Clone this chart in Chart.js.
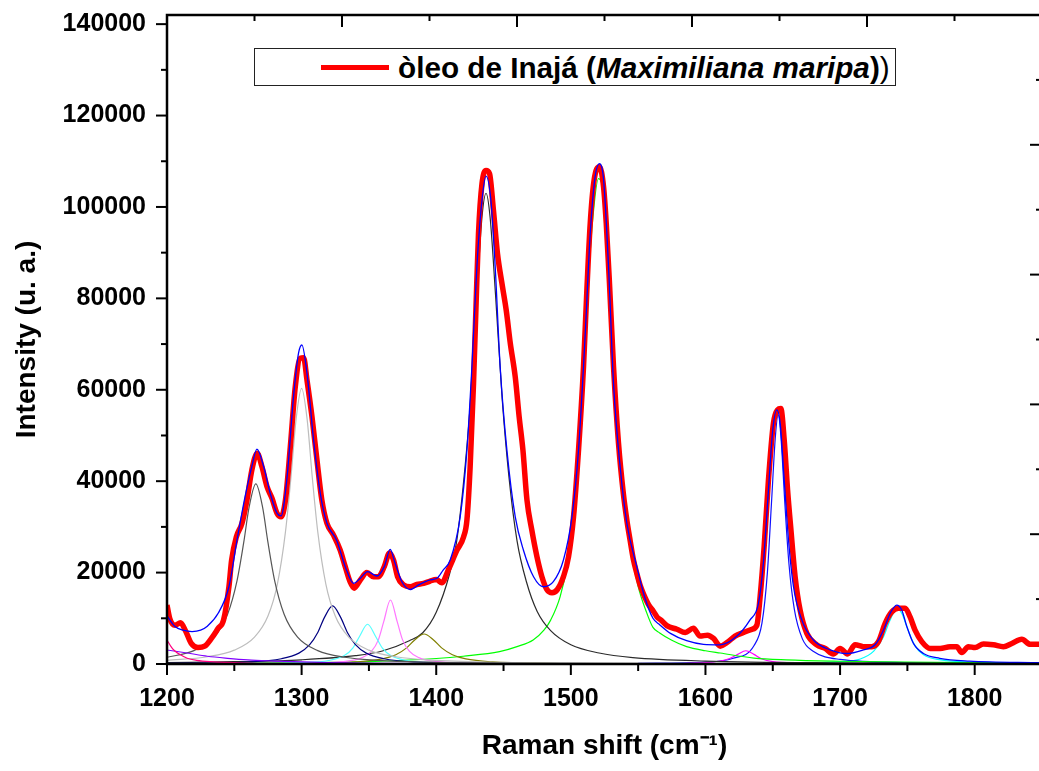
<!DOCTYPE html>
<html>
<head>
<meta charset="utf-8">
<script src="https://cdn.jsdelivr.net/npm/chart.js@4.4.1/dist/chart.umd.min.js"></script>
<style>
  html, body { margin: 0; padding: 0; background: #fff; overflow: hidden; }
  #wrap { position: relative; width: 1060px; height: 771px; }
  #legend { position: absolute; left: 254px; top: 48px; width: 642px; height: 38px; box-sizing: border-box;
            border: 1px solid #222; background: #fff; font-family: 'Liberation Sans', Arial, sans-serif; }
  #legend .swatch { position: absolute; left: 66px; top: 16px; width: 68px; height: 5px; background: #ff0000; }
  #legend .label { position: absolute; left: 143px; top: 4px; font-size: 29.7px; line-height: 30px; white-space: nowrap; color: #000; }
</style>
</head>
<body>
<div id="wrap">
  <canvas id="raman" width="1060" height="771"></canvas>
  <div id="legend"><span class="swatch"></span><span class="label"><b>òleo de Inajá (<i>Maximiliana maripa</i>)</b>)</span></div>
</div>
<script>
// axis ticks
const xTicks = [1200, 1300, 1400, 1500, 1600, 1700, 1800];
const xMinor = [1250, 1350, 1450, 1550, 1650, 1750];
const yTicks = [0, 20000, 40000, 60000, 80000, 100000, 120000, 140000];
const yMinor = [10000, 30000, 50000, 70000, 90000, 110000, 130000];
// top / right axes of the second layer (no labels), as fractions of the frame
const mirrorMajor = [0, 0.2, 0.4, 0.6, 0.8, 1];
const mirrorMinor = [0.1, 0.3, 0.5, 0.7, 0.9];

// measured spectrum [shift, intensity]
const spectrum = [[1200,12900],[1202,10000],[1206,8500],[1210,9000],[1214,7100],[1218,4500],[1223,3600],[1228,3900],
  [1233,5600],[1238,7800],[1242,9600],[1246,16900],[1248,22750],[1251.5,27800],[1255.7,30800],[1259.4,35900],[1263,42400],
  [1267,46100],[1270.5,43200],[1274.3,38800],[1278,36250],[1281.7,33000],[1284.7,32200],[1288,35900],[1291.6,47500],
  [1295.3,60700],[1299,66900],[1301.5,67000],[1304,62100],[1307.7,54100],[1311.4,44600],[1315,35900],[1318.8,30800],
  [1323.7,28200],[1328.7,24900],[1332.4,21300],[1336,18000],[1339,16600],[1343.6,18400],[1348.5,20000],[1353.4,19100],
  [1357,19100],[1361.4,21300],[1365.3,24300],[1368.3,22750],[1371.3,19100],[1375.7,17300],[1380.7,16900],[1385.6,17400],
  [1390.6,17650],[1395.5,18150],[1400,18500],[1404.2,17800],[1409,20600],[1415.4,24900],[1420.3,27800],[1422.8,31500],
  [1425.2,43200],[1427.7,61400],[1429.7,79600],[1431.4,94200],[1434,105100],[1437,108000],[1439.6,107300],[1442.5,99300],
  [1445.5,89800],[1448.8,83300],[1452,77400],[1455,70200],[1458.7,62800],[1461.6,54100],[1464.4,46800],[1467.4,35900],
  [1471,29300],[1474.8,23500],[1478.5,19100],[1482.2,16300],[1486,15600],[1490,16300],[1494.5,19100],[1498.3,23500],
  [1502,32200],[1505.7,46800],[1509.4,65000],[1511.9,81800],[1514.4,96400],[1517.3,105900],[1521.3,108800],[1524.3,104400],
  [1526.3,96400],[1528.7,83300],[1531.7,65000],[1535.4,48300],[1539,37300],[1541.6,31500],[1544,27100],[1546.5,22800],
  [1549,19800],[1551.5,17200],[1554,15300],[1557.7,13000],[1561.4,11500],[1564,10300],[1567,9600],[1571.3,8400],
  [1578.8,7600],[1585,6900],[1591,7800],[1596,6100],[1601.5,6300],[1606,5600],[1611,3900],[1616,4700],[1622,6100],
  [1628.2,6900],[1634.5,7600],[1638.2,8500],[1640.6,14700],[1643.6,25700],[1646.8,40300],[1650.5,52700],[1653.5,55600],
  [1656,55900],[1658.5,49000],[1661,38100],[1663.5,29300],[1666.6,19100],[1670.3,11800],[1675.3,6700],[1682.7,4200],
  [1688.9,3400],[1695,2200],[1700,3400],[1705.5,2200],[1711.2,4200],[1717.3,3800],[1723.6,3800],[1728.5,4900],
  [1733.5,8900],[1738.4,11400],[1743.3,12200],[1748.3,12200],[1752,10300],[1755.7,7400],[1760.7,4900],[1766.9,3400],
  [1774.3,3400],[1781.7,3800],[1786.7,3800],[1790.4,2500],[1795.3,3800],[1800.3,3600],[1806.5,4400],[1813.9,4200],
  [1821.3,3800],[1827.6,4500],[1835,5400],[1841.3,4300],[1850,4300]];

// cumulative fit
const fitSum = [[1200,10500],[1206,8200],[1212,7400],[1218.6,7100],[1225,7400],[1229.7,8200],[1238,11100],[1246,16900],
  [1252,27100],[1258,36600],[1263,43200],[1266.8,47000],[1271.8,43200],[1276.7,37300],[1281.7,33000],[1284.7,32400],
  [1289,40300],[1294,58500],[1297.7,68000],[1300.2,69800],[1304,63600],[1308.9,49000],[1313.9,37300],[1318.8,30800],
  [1326,27100],[1332.4,21300],[1338.6,17650],[1343.6,18750],[1349,20200],[1356,19250],[1361.4,21300],[1365.8,25100],
  [1369.5,22000],[1374.5,18000],[1380.7,16300],[1386.9,17300],[1395.5,18400],[1400.5,18750],[1405,20500],[1410.4,22750],
  [1417.8,32200],[1422.8,46800],[1426.5,65000],[1430.2,86900],[1434,101500],[1437,106750],[1440.6,101500],[1443.8,86900],
  [1447.5,65000],[1452.5,46800],[1458.7,32200],[1464.8,24900],[1472.3,19100],[1479.7,16900],[1487,18000],[1494.5,22750],
  [1500.8,32200],[1505.7,46800],[1510.7,72300],[1514.4,94200],[1518,106600],[1521.3,109500],[1524.3,106000],[1528,86900],
  [1531.7,61400],[1536.6,43200],[1541.6,30800],[1549,21300],[1555,14500],[1561,10000],[1566,8600],[1574,6700],
  [1586,5100],[1598.5,4300],[1611,4200],[1623,6000],[1633,9600],[1639.4,13300],[1643,22000],[1646.8,38100],
  [1650,51200],[1653,55600],[1655.5,52700],[1658.5,40300],[1661.7,27100],[1665.4,16900],[1671.6,9600],[1680.2,5250],
  [1692.6,3100],[1705,2300],[1717.3,3100],[1726,4200],[1732.2,7400],[1737.2,11100],[1742.1,12900],[1745.8,11800],
  [1749.6,8200],[1754.5,4500],[1761.9,2300],[1774,1250],[1796,650],[1850,300]];

// fitted component bands
const band1200a = [[1200,5250],[1203,3800],[1205,3060],[1210,2000],[1215,1250],[1222,800],[1232,500],[1260,200],[1300,100],[1400,40]];
const band1200b = [[1200,3060],[1215,2400],[1230,1700],[1245,1250],[1260,900],[1280,650],[1294,500],[1320,300],[1360,150],[1400,100],[1500,50]];
const band1266 = [[1200,1470],[1220,2920],[1235,5890],[1245,10900],[1252,18200],[1257,26600],[1261,34300],[1266,39400],
  [1271,34300],[1275,26600],[1280,18200],[1287,10900],[1297,5890],[1312,2920],[1332,1470],[1360,740],[1400,370],[1500,120],[1650,40],[1850,15]];
const band1300 = [[1200,790],[1230,1590],[1250,3030],[1265,5880],[1275,10500],[1282,17500],[1288,28900],[1292,40600],
  [1296,53800],[1300,60300],[1304,53800],[1308,40600],[1312,28900],[1318,17500],[1325,10500],[1335,5880],[1350,3030],
  [1370,1590],[1400,790],[1450,350],[1550,130],[1700,50],[1850,20]];
const band1323 = [[1200,120],[1260,440],[1285,1150],[1298,2380],[1306,4220],[1312,6900],[1317,10200],[1323,12700],
  [1329,10200],[1334,6900],[1340,4220],[1348,2380],[1361,1150],[1386,440],[1450,110],[1600,30],[1850,10]];
const band1349 = [[1200,30],[1280,150],[1300,280],[1320,760],[1332,1900],[1338,3490],[1343,6020],[1349,8700],[1355,6020],
  [1360,3490],[1366,1900],[1378,760],[1398,280],[1450,70],[1600,10]];
const band1366 = [[1200,30],[1300,150],[1330,510],[1345,1400],[1352,2800],[1357,5280],[1361,9270],[1366,14000],[1371,9270],
  [1375,5280],[1380,2800],[1387,1400],[1402,510],[1432,150],[1500,40],[1650,10]];
const band1391 = [[1200,35],[1300,150],[1340,460],[1360,1110],[1370,2020],[1378,3530],[1384,5250],[1391,6560],[1398,5250],
  [1404,3530],[1412,2020],[1422,1110],[1442,460],[1482,150],[1550,50],[1700,15]];
const band1437 = [[1200,310],[1250,500],[1300,920],[1340,1820],[1360,2850],[1380,5100],[1390,6830],[1400,11300],[1410,19800],
  [1415,26500],[1420,38900],[1425,55700],[1430,79800],[1434,97800],[1437,103000],[1440,97800],[1444,81000],[1449,58000],
  [1454,41000],[1460,27000],[1467,18000],[1475,11500],[1485,7300],[1500,4200],[1521,2400],[1546,1400],[1600,650],[1700,250],[1850,100]];
const band1520 = [[1200,120],[1300,280],[1350,500],[1400,1200],[1420,1700],[1447,2700],[1460,3800],[1472,5250],[1480,7400],
  [1485,9600],[1492,14700],[1497,21300],[1502,33700],[1507,54100],[1512,79600],[1516.4,97800],[1520.5,106200],[1524.8,102200],
  [1528.7,86900],[1533,61400],[1538,38000],[1544,26000],[1550,17000],[1556,11500],[1561,8000],[1566,6800],[1575,5200],
  [1586,3800],[1600,2900],[1611,2400],[1636,1300],[1660,900],[1700,600],[1750,400],[1850,200]];
const band1630 = [[1580,100],[1600,300],[1610,600],[1618,1200],[1624,2100],[1630,2900],[1636,2100],[1642,1100],[1650,500],[1670,200],[1720,50]];
const band1655 = [[1550,150],[1600,400],[1620,1200],[1636,4000],[1642,9000],[1646,20000],[1649,35000],[1652,50000],[1654,54500],
  [1656,50000],[1659,35000],[1662,22000],[1666,12000],[1672,5500],[1680,2800],[1700,1000],[1750,300],[1850,100]];
const band1743 = [[1650,100],[1700,500],[1715,1100],[1725,2800],[1732,5800],[1737,9500],[1741,11800],[1743,12000],[1746,11000],
  [1750,7800],[1755,4300],[1762,2000],[1775,900],[1800,400],[1850,150]];

const line = (label, pts, color, width, order) => ({
  label,
  data: pts.map(([x, y]) => ({ x, y })),
  borderColor: color,
  borderWidth: width,
  pointRadius: 0,
  fill: false,
  cubicInterpolationMode: 'monotone',
  order
});

// frame with ticks: outward on bottom/left, inward on top/right
const frame = {
  id: 'frame',
  afterDatasetsDraw(chart) {
    const { ctx, chartArea: a, scales: { x, y } } = chart;
    const seg = (x1, y1, x2, y2) => { ctx.beginPath(); ctx.moveTo(x1, y1); ctx.lineTo(x2, y2); ctx.stroke(); };
    ctx.save();
    ctx.strokeStyle = '#000';
    ctx.lineWidth = 2.5;
    ctx.strokeRect(a.left, a.top, a.right - a.left, a.bottom - a.top);
    ctx.lineWidth = 2;
    xTicks.forEach(v => { const p = x.getPixelForValue(v); seg(p, a.bottom, p, a.bottom + 11); });
    xMinor.forEach(v => { const p = x.getPixelForValue(v); seg(p, a.bottom, p, a.bottom + 7); });
    yTicks.forEach(v => { const p = y.getPixelForValue(v); seg(a.left - 11, p, a.left, p); });
    yMinor.forEach(v => { const p = y.getPixelForValue(v); seg(a.left - 6, p, a.left, p); });
    const w = a.right - a.left, h = a.bottom - a.top;
    mirrorMajor.forEach(f => {
      seg(a.left + f * w, a.top, a.left + f * w, a.top + 12);
      seg(a.right, a.top + f * h, a.right - 12, a.top + f * h);
    });
    mirrorMinor.forEach(f => {
      seg(a.left + f * w, a.top, a.left + f * w, a.top + 6);
      seg(a.right, a.top + f * h, a.right - 6, a.top + f * h);
    });
    ctx.restore();
  }
};

Chart.defaults.font.family = "'Liberation Sans', Arial, Helvetica, sans-serif";
Chart.defaults.color = '#000';

new Chart(document.getElementById('raman'), {
  type: 'line',
  data: {
    datasets: [
      line('fit', fitSum, '#0000ff', 1.3, 0),
      line('òleo de Inajá (Maximiliana maripa)', spectrum, '#ff0000', 5.5, 1),
      line('1200a', band1200a, '#ff0080', 1.2, 2),
      line('1200b', band1200b, '#8000ff', 1.2, 2),
      line('1266', band1266, '#555555', 1.2, 2),
      line('1300', band1300, '#bdbdbd', 1.2, 2),
      line('1323', band1323, '#000080', 1.2, 2),
      line('1349', band1349, '#55ffff', 1.2, 2),
      line('1366', band1366, '#ff77ff', 1.2, 2),
      line('1391', band1391, '#808000', 1.2, 2),
      line('1437', band1437, '#2b2b2b', 1.2, 2),
      line('1520', band1520, '#00ff00', 1.2, 2),
      line('1630', band1630, '#ff00ff', 1.2, 2),
      line('1655', band1655, '#1010ff', 1.2, 2),
      line('1743', band1743, '#00ffff', 1.2, 2)
    ]
  },
  options: {
    responsive: false,
    animation: false,
    events: [],
    devicePixelRatio: 1,
    layout: { padding: { left: 0, top: 15, right: 18, bottom: 0 } },
    plugins: { legend: { display: false }, tooltip: { enabled: false } },
    scales: {
      x: {
        type: 'linear',
        min: 1200,
        max: 1850,
        afterBuildTicks: s => { s.ticks = xTicks.map(v => ({ value: v })); },
        afterFit: s => { s.height = 107; s.paddingLeft = 0; s.paddingRight = 0; },
        grid: { display: false, drawTicks: false },
        border: { display: false },
        ticks: { callback: v => String(v), font: { size: 25, weight: 'bold' }, color: '#000', padding: 20, maxRotation: 0, autoSkip: false },
        title: { display: true, text: 'Raman shift (cm⁻¹)', font: { size: 28, weight: 'bold' }, color: '#000', padding: { top: 0, bottom: 8 } }
      },
      y: {
        type: 'linear',
        min: 0,
        max: 142000,
        afterBuildTicks: s => { s.ticks = yTicks.map(v => ({ value: v })); },
        afterFit: s => { s.width = 167; s.paddingTop = 0; s.paddingBottom = 0; },
        grid: { display: false, drawTicks: false },
        border: { display: false },
        ticks: { callback: v => String(v), font: { size: 25, weight: 'bold' }, color: '#000', padding: 21, autoSkip: false },
        title: { display: true, text: 'Intensity (u. a.)', font: { size: 28, weight: 'bold' }, color: '#000', padding: { top: 10, bottom: 0 } }
      }
    }
  },
  plugins: [frame]
});
</script>
</body>
</html>
